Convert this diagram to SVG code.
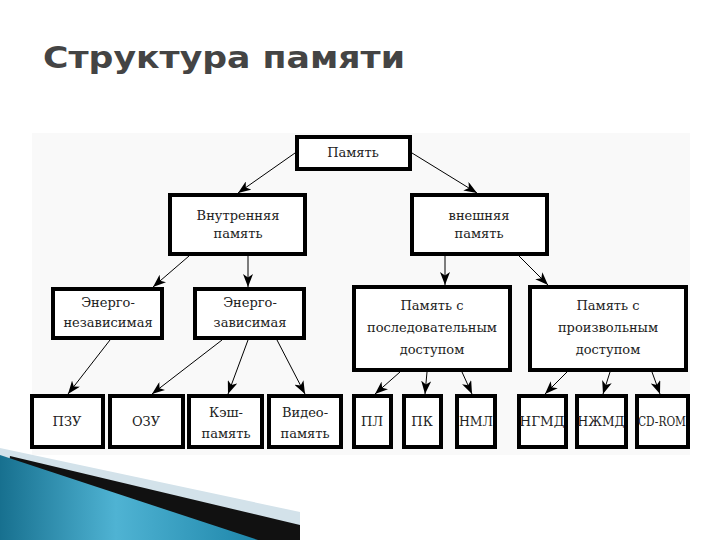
<svg xmlns="http://www.w3.org/2000/svg" width="720" height="540" viewBox="0 0 720 540">
<style>
.box{fill:#fff;stroke:#000;stroke-width:4}
.t{font-family:"DejaVu Serif","Liberation Serif",serif;font-size:13px;fill:#222;text-anchor:middle}
.c{stroke:#000;stroke-width:1;fill:none;marker-end:url(#ah)}
.title{font-family:"DejaVu Sans","Verdana",sans-serif;font-size:31px;font-weight:bold;fill:#444}
</style>
<defs>
<marker id="ah" markerUnits="userSpaceOnUse" markerWidth="13" markerHeight="10" viewBox="0 0 13 10" refX="13" refY="5" orient="auto">
<path d="M0,0 L13,5 L0,10 L3.5,5 z" fill="#000"/>
</marker>
<linearGradient id="blue" x1="0" y1="0" x2="1" y2="0">
<stop offset="0" stop-color="#17708f"/>
<stop offset="0.45" stop-color="#4fb3d3"/>
<stop offset="1" stop-color="#1e86aa"/>
</linearGradient>
</defs>
<rect width="720" height="540" fill="#fff"/>
<text class="title" x="43" y="68" textLength="362" lengthAdjust="spacingAndGlyphs">Структура памяти</text>
<rect x="32" y="133" width="658" height="322" fill="#f9f9f9"/>
<g id="connectors">
<line class="c" x1="295" y1="153" x2="238" y2="193"/>
<line class="c" x1="412" y1="153" x2="477" y2="193"/>
<line class="c" x1="189" y1="256" x2="153" y2="287"/>
<line class="c" x1="248" y1="256" x2="248" y2="287"/>
<line class="c" x1="445" y1="256" x2="445" y2="285"/>
<line class="c" x1="519" y1="256" x2="548" y2="285"/>
<line class="c" x1="110" y1="340" x2="68" y2="394"/>
<line class="c" x1="222" y1="340" x2="152" y2="394"/>
<line class="c" x1="248" y1="340" x2="228" y2="394"/>
<line class="c" x1="277" y1="340" x2="305" y2="394"/>
<line class="c" x1="400" y1="372" x2="375" y2="394"/>
<line class="c" x1="427" y1="372" x2="425" y2="394"/>
<line class="c" x1="462" y1="372" x2="472" y2="394"/>
<line class="c" x1="567" y1="372" x2="545" y2="394"/>
<line class="c" x1="610" y1="372" x2="603" y2="394"/>
<line class="c" x1="652" y1="372" x2="660" y2="394"/>
</g>
<g id="pamyat"><rect class="box" x="297" y="137" width="113" height="32"/><text class="t" x="353" y="157">Память</text></g>
<g id="vnutr"><rect class="box" x="170" y="195" width="135" height="59"/><text class="t" x="238" y="220">Внутренняя</text><text class="t" x="238" y="238">память</text></g>
<g id="vnesh"><rect class="box" x="412" y="195" width="135" height="59"/><text class="t" x="479" y="220">внешняя</text><text class="t" x="479" y="238">память</text></g>
<g id="energonez"><rect class="box" x="53" y="289" width="109" height="49"/><text class="t" x="108" y="307">Энерго-</text><text class="t" x="108" y="327">независимая</text></g>
<g id="energozav"><rect class="box" x="195" y="289" width="109" height="49"/><text class="t" x="250" y="307">Энерго-</text><text class="t" x="250" y="327">зависимая</text></g>
<g id="posl"><rect class="box" x="354" y="287" width="156" height="83"/><text class="t" x="432" y="310">Память с</text><text class="t" x="432" y="332">последовательным</text><text class="t" x="432" y="354">доступом</text></g>
<g id="proizv"><rect class="box" x="530" y="287" width="156" height="83"/><text class="t" x="608" y="310">Память с</text><text class="t" x="608" y="332">произвольным</text><text class="t" x="608" y="354">доступом</text></g>
<g id="pzu"><rect class="box" x="32" y="396" width="71" height="51"/><text class="t" x="67" y="426">ПЗУ</text></g>
<g id="ozu"><rect class="box" x="110" y="396" width="73" height="51"/><text class="t" x="146" y="426">ОЗУ</text></g>
<g id="kesh"><rect class="box" x="189" y="396" width="73" height="51"/><text class="t" x="226" y="417">Кэш-</text><text class="t" x="226" y="438">память</text></g>
<g id="video"><rect class="box" x="269" y="396" width="72" height="51"/><text class="t" x="305" y="417">Видео-</text><text class="t" x="305" y="438">память</text></g>
<g id="pl"><rect class="box" x="354" y="396" width="37" height="51"/><text class="t" x="372" y="426">ПЛ</text></g>
<g id="pk"><rect class="box" x="404" y="396" width="37" height="51"/><text class="t" x="422" y="426">ПК</text></g>
<g id="nml"><rect class="box" x="457" y="396" width="38" height="51"/><text class="t" x="476" y="426" textLength="34" lengthAdjust="spacingAndGlyphs">НМЛ</text></g>
<g id="ngmd"><rect class="box" x="519" y="396" width="47" height="51"/><text class="t" x="542" y="426" textLength="45" lengthAdjust="spacingAndGlyphs">НГМД</text></g>
<g id="nzhmd"><rect class="box" x="577" y="396" width="49" height="51"/><text class="t" x="601" y="426" textLength="47" lengthAdjust="spacingAndGlyphs">НЖМД</text></g>
<g id="cdrom"><rect class="box" x="637" y="396" width="51" height="51"/><text class="t" x="662" y="426" textLength="48" lengthAdjust="spacingAndGlyphs">CD-ROM</text></g>
<polygon points="0,448 300,512 300,540 0,540" fill="#d3e2ea"/>
<polygon points="10,456 300,525 300,540 0,540" fill="#111"/>
<polygon points="0,455 258,540 0,540" fill="url(#blue)"/>
</svg>
